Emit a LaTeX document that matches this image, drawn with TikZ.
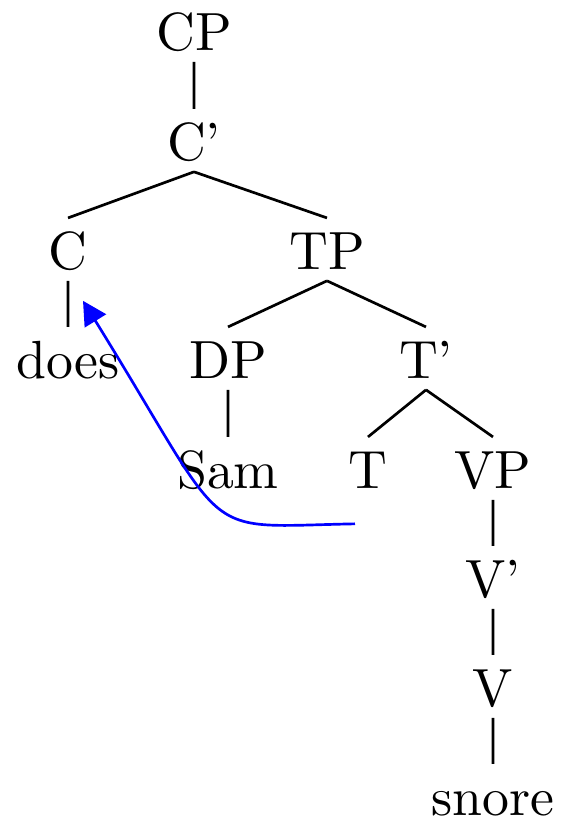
\documentclass[tikz,border=0pt]{standalone}
\usepackage{tikz}
\usetikzlibrary{arrows.meta,calc}

\tikzset{
  cat/.style={anchor=base, inner sep=2pt, text height=7.3pt, text depth=0pt},
  branch/.style={line width=0.5pt},
  move/.style={blue, line width=0.5pt, -{Triangle[length=4.4pt,width=4.6pt]}},
}

\begin{document}
\begin{tikzpicture}[x=0.186pt, y=-0.186pt]
      \useasboundingbox (0,0) rectangle (561,819);
        \node[cat] (cp)    at (194, 50) {CP};
        \node[cat] (cbar)  at (194,160) {C'};
        \node[cat] (c)     at ( 68,269) {C};
        \node[cat] (tp)    at (327,269) {TP};
        \node[cat] (does)  at ( 68,378) {does};
        \node[cat] (dp)    at (228,378) {DP};
        \node[cat] (tbar)  at (426,378) {T'};
        \node[cat] (sam)   at (228,488) {Sam};
        \node[cat] (t)     at (368,488) {T};
        \node[cat] (vp)    at (493,488) {VP};
        \node[cat] (vbar)  at (493,597) {V'};
        \node[cat] (v)     at (493,706) {V};
        \node[cat] (snore) at (493,815) {snore};
        \draw[branch]
          (cp.south) -- (cbar.north)
          (cbar.south) -- (c.north)   (cbar.south) -- (tp.north)
          (c.south) -- (does.north)
          (tp.south) -- (dp.north)    (tp.south) -- (tbar.north)
          (dp.south) -- (sam.north)
          (tbar.south) -- (t.north)   (tbar.south) -- (vp.north)
          (vp.south) -- (vbar.north)
          (vbar.south) -- (v.north)
          (v.south) -- (snore.north);
        % head movement T -> C
        \draw[move] ($(t.south)+(-13,24)$) .. controls +(-160,3) and +(151,244) .. ($(c.south)+(15,20)$);
\end{tikzpicture}
\end{document}
